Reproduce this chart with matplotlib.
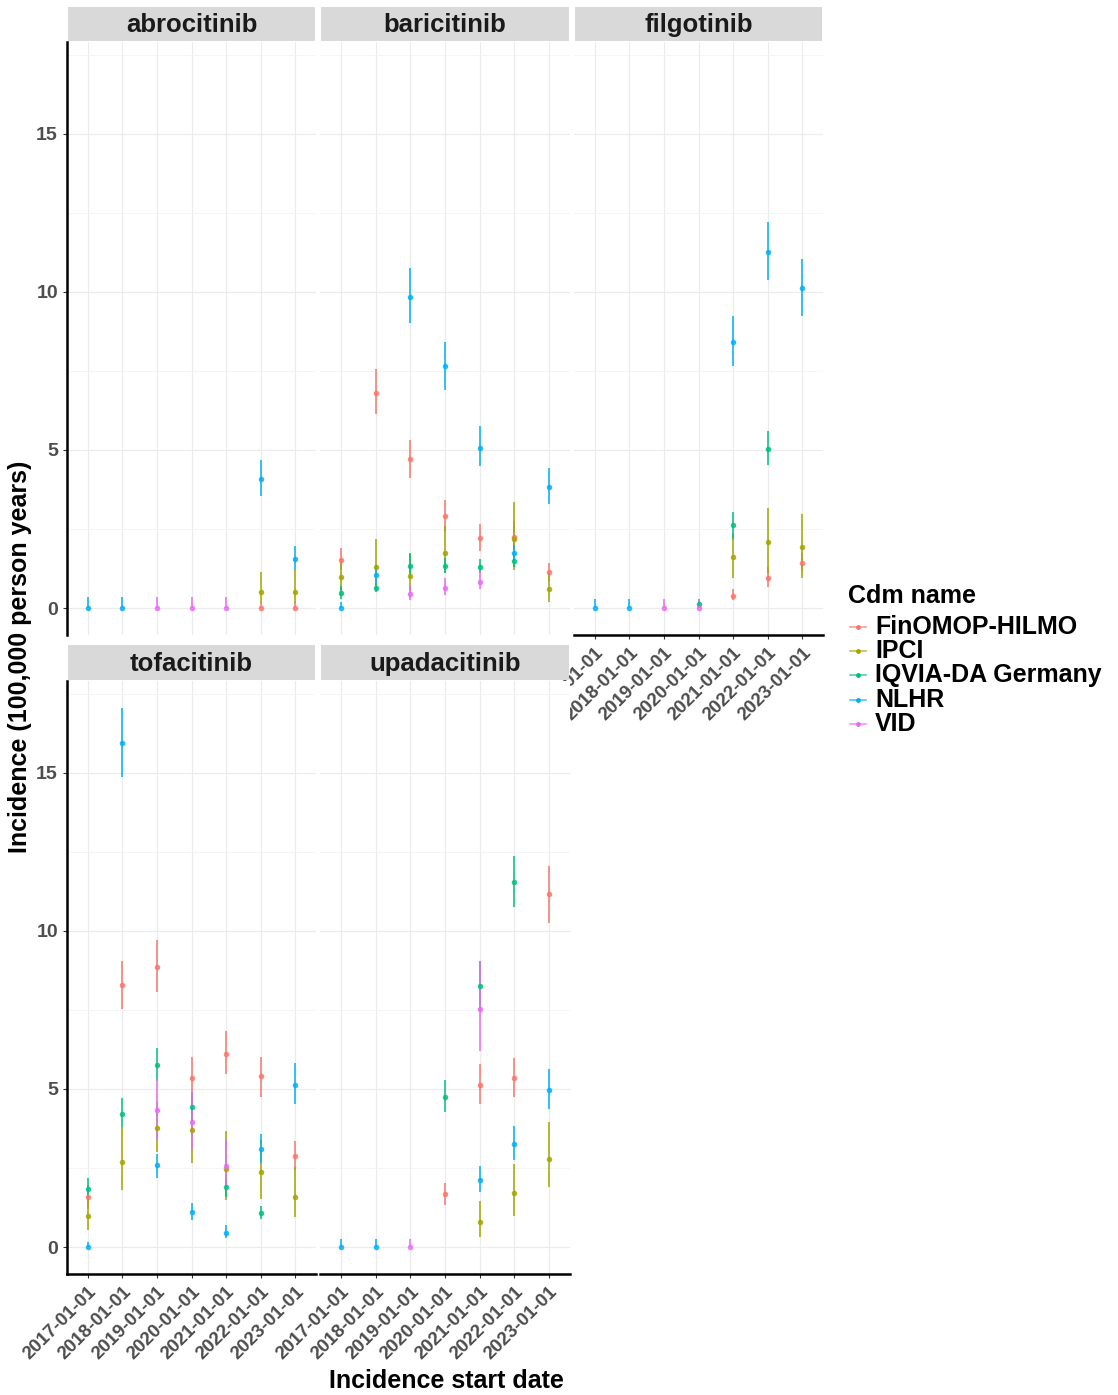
"""Incidence of JAK inhibitor use per database, faceted by drug."""

import matplotlib
matplotlib.use("Agg")
import matplotlib.pyplot as plt
import pandas as pd
from matplotlib.lines import Line2D

plt.rcParams["font.family"] = ["Liberation Sans", "DejaVu Sans"]
plt.rcParams["font.weight"] = "bold"

DATES = ["2017-01-01", "2018-01-01", "2019-01-01", "2020-01-01",
         "2021-01-01", "2022-01-01", "2023-01-01"]
CDM_NAMES = ["FinOMOP-HILMO", "IPCI", "IQVIA-DA Germany", "NLHR", "VID"]
CDM_COLOURS = ["#F8766D", "#A3A500", "#00BF7D", "#00B0F6", "#E76BF3"]
DRUGS = ["abrocitinib", "baricitinib", "filgotinib", "tofacitinib", "upadacitinib"]

# (cdm name, start year, incidence, lower CI, upper CI) -- per 100,000 person years
ABROCITINIB = [
    ("NLHR", 2017, 0.0, 0.0, 0.35),
    ("NLHR", 2018, 0.0, 0.0, 0.35),
    ("VID", 2019, 0.0, 0.0, 0.35),
    ("VID", 2020, 0.0, 0.0, 0.35),
    ("VID", 2021, 0.0, 0.0, 0.35),
    ("FinOMOP-HILMO", 2022, 0.0, 0.0, 0.2),
    ("IPCI", 2022, 0.5, 0.15, 1.15),
    ("NLHR", 2022, 4.07, 3.54, 4.68),
    ("FinOMOP-HILMO", 2023, 0.0, 0.0, 0.2),
    ("IPCI", 2023, 0.5, 0.15, 1.2),
    ("NLHR", 2023, 1.55, 1.2, 1.95),
]

BARICITINIB = [
    ("FinOMOP-HILMO", 2017, 1.52, 1.2, 1.9),
    ("IPCI", 2017, 0.97, 0.55, 1.5),
    ("IQVIA-DA Germany", 2017, 0.47, 0.3, 0.7),
    ("NLHR", 2017, 0.0, 0.0, 0.2),
    ("FinOMOP-HILMO", 2018, 6.8, 6.13, 7.57),
    ("IPCI", 2018, 1.3, 0.7, 2.2),
    ("IQVIA-DA Germany", 2018, 0.63, 0.5, 0.8),
    ("NLHR", 2018, 1.04, 0.8, 1.35),
    ("NLHR", 2019, 9.85, 9.03, 10.75),
    ("FinOMOP-HILMO", 2019, 4.72, 4.12, 5.33),
    ("IPCI", 2019, 1.02, 0.55, 1.7),
    ("IQVIA-DA Germany", 2019, 1.33, 1.05, 1.75),
    ("VID", 2019, 0.44, 0.25, 0.7),
    ("NLHR", 2020, 7.64, 6.91, 8.43),
    ("FinOMOP-HILMO", 2020, 2.91, 2.4, 3.42),
    ("IPCI", 2020, 1.73, 1.1, 2.6),
    ("IQVIA-DA Germany", 2020, 1.33, 1.1, 1.6),
    ("VID", 2020, 0.63, 0.4, 0.95),
    ("NLHR", 2021, 5.07, 4.49, 5.76),
    ("FinOMOP-HILMO", 2021, 2.22, 1.8, 2.67),
    ("IQVIA-DA Germany", 2021, 1.31, 1.1, 1.55),
    ("VID", 2021, 0.84, 0.6, 1.15),
    ("IPCI", 2022, 2.2, 1.2, 3.37),
    ("FinOMOP-HILMO", 2022, 2.26, 1.8, 2.75),
    ("NLHR", 2022, 1.73, 1.5, 2.0),
    ("IQVIA-DA Germany", 2022, 1.49, 1.3, 1.7),
    ("NLHR", 2023, 3.83, 3.28, 4.42),
    ("FinOMOP-HILMO", 2023, 1.13, 0.85, 1.44),
    ("IPCI", 2023, 0.6, 0.18, 1.1),
]

FILGOTINIB = [
    ("NLHR", 2017, 0.0, 0.0, 0.3),
    ("NLHR", 2018, 0.0, 0.0, 0.3),
    ("VID", 2019, 0.0, 0.0, 0.3),
    ("VID", 2020, 0.0, 0.0, 0.3),
    ("IQVIA-DA Germany", 2020, 0.12, 0.0, 0.28),
    ("NLHR", 2021, 8.41, 7.64, 9.25),
    ("IQVIA-DA Germany", 2021, 2.63, 2.2, 3.05),
    ("IPCI", 2021, 1.62, 0.95, 2.35),
    ("FinOMOP-HILMO", 2021, 0.39, 0.25, 0.6),
    ("NLHR", 2022, 11.27, 10.38, 12.22),
    ("IQVIA-DA Germany", 2022, 5.04, 4.52, 5.59),
    ("IPCI", 2022, 2.09, 1.1, 3.15),
    ("FinOMOP-HILMO", 2022, 0.94, 0.66, 1.3),
    ("NLHR", 2023, 10.12, 9.24, 11.04),
    ("IPCI", 2023, 1.93, 0.95, 2.99),
    ("FinOMOP-HILMO", 2023, 1.44, 1.18, 1.75),
]

TOFACITINIB = [
    ("NLHR", 2017, 0.0, 0.0, 0.15),
    ("IPCI", 2017, 0.99, 0.54, 1.5),
    ("FinOMOP-HILMO", 2017, 1.57, 1.2, 1.95),
    ("IQVIA-DA Germany", 2017, 1.84, 1.5, 2.19),
    ("NLHR", 2018, 15.93, 14.88, 17.05),
    ("FinOMOP-HILMO", 2018, 8.29, 7.53, 9.06),
    ("IQVIA-DA Germany", 2018, 4.22, 3.8, 4.7),
    ("IPCI", 2018, 2.69, 1.81, 3.8),
    ("FinOMOP-HILMO", 2019, 8.86, 8.07, 9.7),
    ("IQVIA-DA Germany", 2019, 5.75, 5.25, 6.29),
    ("VID", 2019, 4.34, 3.4, 5.3),
    ("IPCI", 2019, 3.76, 3.0, 4.6),
    ("NLHR", 2019, 2.59, 2.2, 2.95),
    ("FinOMOP-HILMO", 2020, 5.36, 4.75, 6.02),
    ("IQVIA-DA Germany", 2020, 4.42, 3.95, 4.9),
    ("VID", 2020, 3.95, 3.1, 4.9),
    ("IPCI", 2020, 3.71, 2.65, 4.8),
    ("NLHR", 2020, 1.12, 0.85, 1.4),
    ("FinOMOP-HILMO", 2021, 6.12, 5.48, 6.83),
    ("VID", 2021, 2.55, 1.8, 3.4),
    ("IPCI", 2021, 2.47, 1.5, 3.67),
    ("IQVIA-DA Germany", 2021, 1.89, 1.6, 2.2),
    ("NLHR", 2021, 0.46, 0.3, 0.7),
    ("FinOMOP-HILMO", 2022, 5.4, 4.76, 6.02),
    ("NLHR", 2022, 3.1, 2.65, 3.59),
    ("IPCI", 2022, 2.39, 1.51, 3.4),
    ("IQVIA-DA Germany", 2022, 1.08, 0.9, 1.3),
    ("NLHR", 2023, 5.12, 4.52, 5.82),
    ("FinOMOP-HILMO", 2023, 2.89, 2.45, 3.37),
    ("IPCI", 2023, 1.59, 0.96, 2.53),
]

UPADACITINIB = [
    ("NLHR", 2017, 0.0, 0.0, 0.27),
    ("NLHR", 2018, 0.0, 0.0, 0.27),
    ("VID", 2019, 0.0, 0.0, 0.27),
    ("IQVIA-DA Germany", 2020, 4.76, 4.27, 5.27),
    ("FinOMOP-HILMO", 2020, 1.67, 1.32, 2.04),
    ("IQVIA-DA Germany", 2021, 8.26, 7.5, 9.05),
    ("VID", 2021, 7.53, 6.21, 9.05),
    ("FinOMOP-HILMO", 2021, 5.14, 4.53, 5.79),
    ("NLHR", 2021, 2.11, 1.75, 2.56),
    ("IPCI", 2021, 0.78, 0.33, 1.46),
    ("IQVIA-DA Germany", 2022, 11.55, 10.76, 12.37),
    ("FinOMOP-HILMO", 2022, 5.34, 4.74, 5.98),
    ("NLHR", 2022, 3.27, 2.75, 3.82),
    ("IPCI", 2022, 1.72, 0.99, 2.64),
    ("FinOMOP-HILMO", 2023, 11.16, 10.26, 12.05),
    ("NLHR", 2023, 4.98, 4.37, 5.64),
    ("IPCI", 2023, 2.8, 1.9, 3.97),
]

DRUG_ROWS = [ABROCITINIB, BARICITINIB, FILGOTINIB, TOFACITINIB, UPADACITINIB]

# figure layout in pixels
W, H = 1118, 1395
COL_X = [(67, 316), (320, 570), (574, 823)]
ROW_Y = [(42, 635), (681, 1274)]
STRIP_Y = [(7, 41), (645, 680)]
YLIM = (-0.85, 17.9)
TEXT_GREY = "#4d4d4d"


def px_box(x0, y0, x1, y1):
    return [x0 / W, 1 - y1 / H, (x1 - x0) / W, (y1 - y0) / H]


def build_frame():
    frames = []
    for drug, rows in zip(DRUGS, DRUG_ROWS):
        df = pd.DataFrame(rows, columns=["cdm_name", "year", "incidence", "lower", "upper"])
        df["drug"] = drug
        frames.append(df)
    return pd.concat(frames, ignore_index=True)


def draw_panel(fig, df, idx):
    row, col = divmod(idx, 3)
    x0, x1 = COL_X[col]
    y0, y1 = ROW_Y[row]
    ax = fig.add_axes(px_box(x0, y0, x1, y1))

    for name, colour in zip(CDM_NAMES, CDM_COLOURS):
        sub = df[df["cdm_name"] == name]
        if sub.empty:
            continue
        x = sub["year"] - 2016
        est = sub["incidence"]
        err = [est - sub["lower"], sub["upper"] - est]
        ax.errorbar(x, est, yerr=err, fmt="o", color=colour, ms=4, mew=0,
                    elinewidth=1.3, capsize=1.5, capthick=0.8, alpha=0.85, zorder=3)

    ax.set_xlim(0.4, 7.6)
    ax.set_ylim(*YLIM)
    ax.set_xticks(range(1, 8))
    ax.set_yticks([0, 5, 10, 15])
    ax.set_yticks([2.5, 7.5, 12.5, 17.5], minor=True)
    ax.grid(True, which="major", color="#ebebeb", lw=0.8)
    ax.grid(True, which="minor", axis="y", color="#f4f4f4", lw=0.6)
    ax.set_axisbelow(True)
    for side in ["top", "right", "left", "bottom"]:
        ax.spines[side].set_visible(False)

    show_x = row == 1 or col == 2
    show_y = col == 0
    ax.tick_params(which="minor", length=0)
    ax.tick_params(axis="both", length=3, width=0.8, color="#333333",
                   labelsize=13.5, labelcolor=TEXT_GREY)
    if show_y:
        ax.spines["left"].set_visible(True)
        ax.spines["left"].set_linewidth(1.8)
        ax.set_yticklabels(["0", "5", "10", "15"], fontweight="bold", fontsize=14)
    else:
        ax.tick_params(axis="y", length=0, labelleft=False)
    if show_x:
        ax.spines["bottom"].set_visible(True)
        ax.spines["bottom"].set_linewidth(1.8)
        ax.set_xticklabels(DATES, rotation=45, ha="right", va="top",
                           rotation_mode="anchor", fontweight="bold")
    else:
        ax.tick_params(axis="x", length=0, labelbottom=False)

    s0, s1 = STRIP_Y[row]
    strip = fig.add_axes(px_box(x0 + 1, s0, x1 - 1, s1))
    strip.set_facecolor("#d9d9d9")
    strip.set_xticks([])
    strip.set_yticks([])
    for sp in strip.spines.values():
        sp.set_visible(False)
    strip.text(0.5, 0.46, DRUGS[idx], ha="center", va="center",
               fontsize=18.5, fontweight="bold", color="#1a1a1a",
               transform=strip.transAxes)
    return ax


def draw_legend(fig):
    fig.text(848 / W, 1 - 596 / H, "Cdm name", ha="left", va="center",
             fontsize=18, fontweight="bold", color="black")
    for i, (name, colour) in enumerate(zip(CDM_NAMES, CDM_COLOURS)):
        yc = 1 - (627 + 24.2 * i) / H
        fig.add_artist(Line2D([850 / W, 866 / W], [yc, yc], color=colour,
                              lw=1.2, alpha=0.7, transform=fig.transFigure))
        fig.add_artist(Line2D([858 / W], [yc], marker="o", ms=3.5, mew=0,
                              color=colour, transform=fig.transFigure))
        fig.text(875 / W, yc, name, ha="left", va="center",
                 fontsize=18, fontweight="bold", color="black")


def main():
    df = build_frame()
    fig = plt.figure(figsize=(W / 100, H / 100), dpi=100)
    for idx, drug in enumerate(DRUGS):
        draw_panel(fig, df[df["drug"] == drug], idx)

    fig.text(20 / W, 1 - 657 / H, "Incidence (100,000 person years)", rotation=90,
             ha="center", va="center", fontsize=18, fontweight="bold")
    fig.text(446 / W, 1 - 1381 / H, "Incidence start date",
             ha="center", va="center", fontsize=18, fontweight="bold")
    draw_legend(fig)

    fig.savefig("out.png", dpi=100)


if __name__ == "__main__":
    main()
